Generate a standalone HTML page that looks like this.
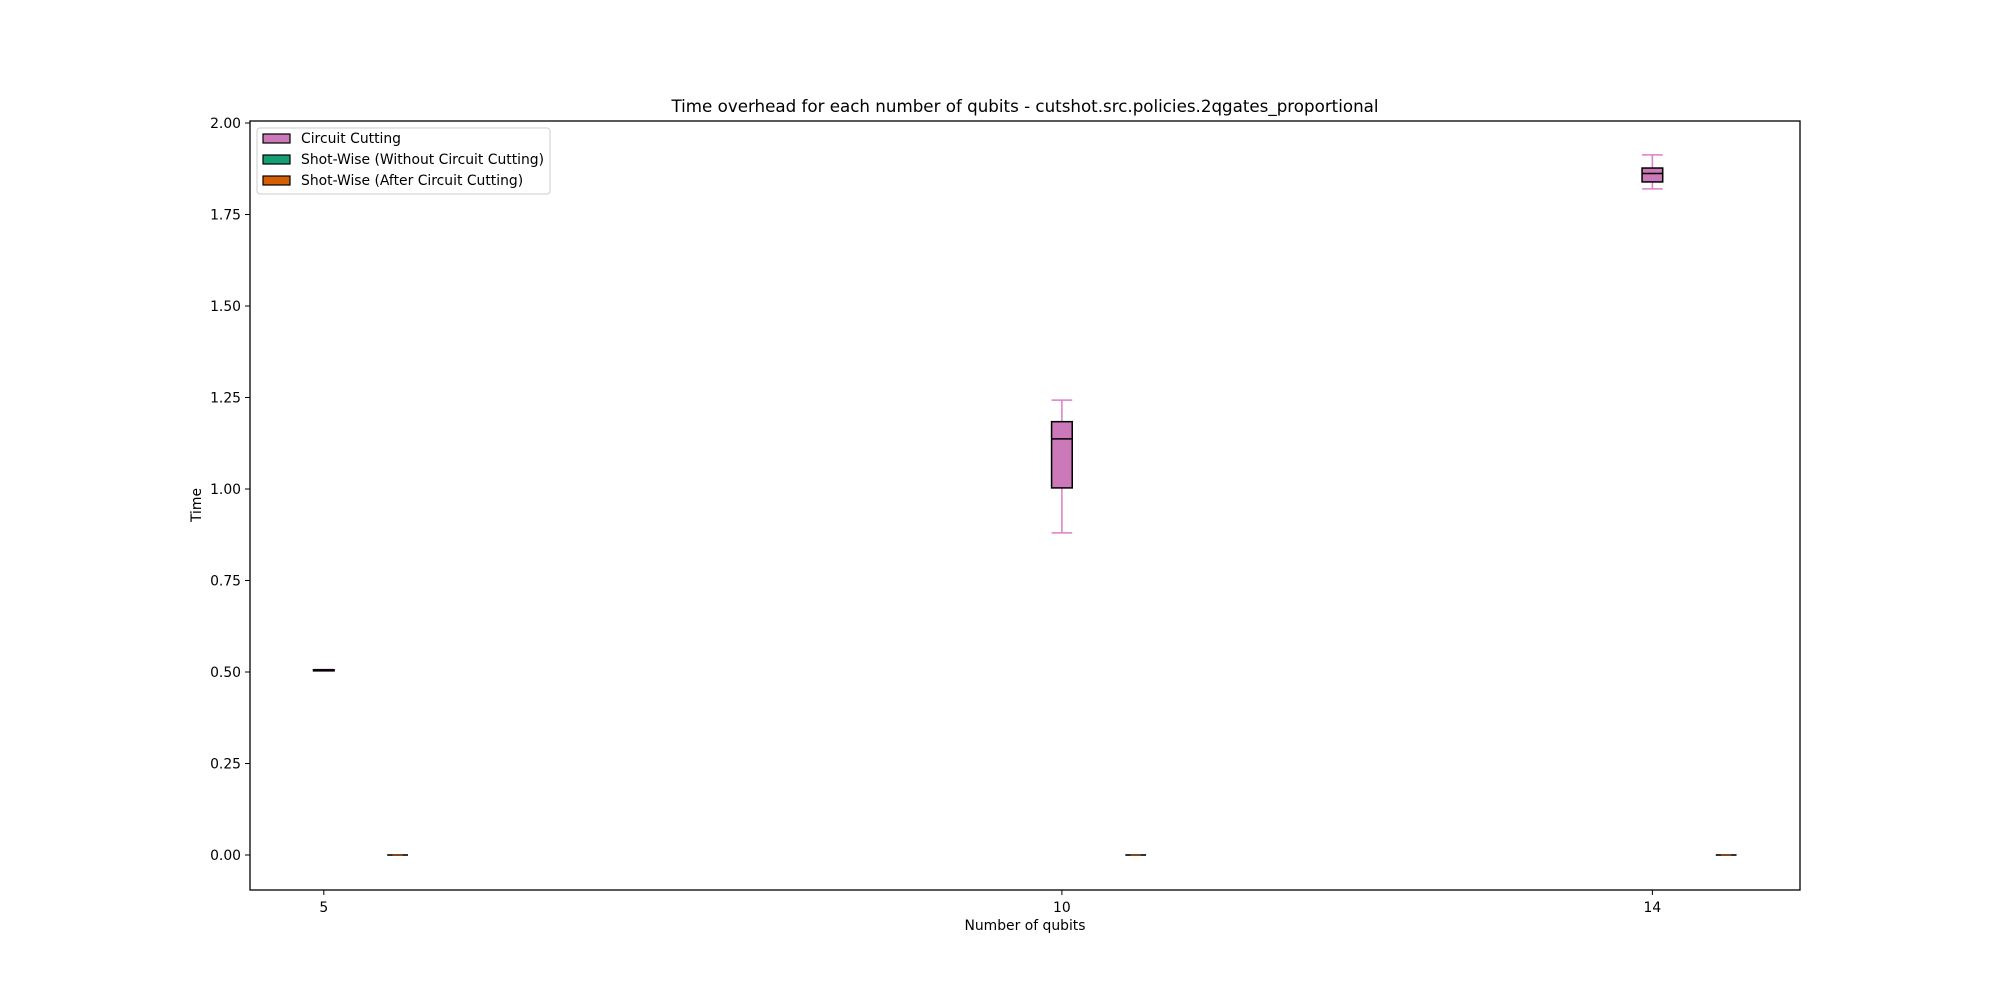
<!DOCTYPE html>
<html><head><meta charset="utf-8"><style>
html,body{margin:0;padding:0;background:#fff;width:2000px;height:1000px;overflow:hidden}
svg text{font-family:"DejaVu Sans","Liberation Sans",sans-serif;fill:#000}
</style></head><body>
<svg id="chart" width="2000" height="1000" xmlns="http://www.w3.org/2000/svg">
<text x="1025" y="112" font-size="16.7" text-anchor="middle">Time overhead for each number of qubits - cutshot.src.policies.2qgates_proportional</text>
<g id="plot"></g>
<rect x="250" y="121" width="1550" height="769" fill="none" stroke="#000" stroke-width="1.3"/>
<text x="1025" y="930" font-size="13.9" text-anchor="middle">Number of qubits</text>
<text transform="translate(201,505) rotate(-90)" font-size="13.9" text-anchor="middle">Time</text>
<g>
<rect x="257" y="128" width="293" height="66" rx="3" fill="#fff" stroke="#ccc" stroke-width="1"/>
<rect x="263" y="134" width="27" height="9" fill="#cc79b9" stroke="#000" stroke-width="1.2"/>
<text x="301" y="143" font-size="13.9">Circuit Cutting</text>
<rect x="263" y="155" width="27" height="9" fill="#149e74" stroke="#000" stroke-width="1.2"/>
<text x="301" y="164" font-size="13.9">Shot-Wise (Without Circuit Cutting)</text>
<rect x="263" y="176" width="27" height="9" fill="#d55e00" stroke="#000" stroke-width="1.2"/>
<text x="301" y="185" font-size="13.9">Shot-Wise (After Circuit Cutting)</text>
</g>
</svg>
<script>
const positions=[5,10,14];
const xTickLabels=["5","10","14"];
const yTicks=[0,0.25,0.5,0.75,1.0,1.25,1.5,1.75,2.0];
const ccWhiskLo=[0.503,0.880,1.820];
const ccQ1=[0.504,1.003,1.839];
const ccMed=[0.505,1.137,1.862];
const ccQ3=[0.506,1.184,1.877];
const ccWhiskHi=[0.507,1.243,1.913];
const swWithout=[0,0,0];
const swAfter=[0,0,0];
const NS="http://www.w3.org/2000/svg";
const X0=250,X1=1800,Y0=890,Y1=121,xmin=4.5,xmax=15,ymin=-0.0956,ymax=2.0055;
const sx=v=>X0+(v-xmin)/(xmax-xmin)*(X1-X0);
const sy=v=>Y0-(v-ymin)/(ymax-ymin)*(Y0-Y1);
const plot=document.getElementById('plot');
function mk(tag,attrs){const e=document.createElementNS(NS,tag);for(const k in attrs)e.setAttribute(k,attrs[k]);plot.appendChild(e);return e;}
yTicks.forEach((t,i)=>{
 const l=mk('line',{x1:X0-5,x2:X0,y1:sy(t),y2:sy(t),stroke:'#000','stroke-width':1});
 
 
 const tx=mk('text',{x:X0-9,y:sy(t)+5,'font-size':13.9,'text-anchor':'end'});
 tx.textContent=t.toFixed(2);
 
 
});
positions.forEach((p,i)=>{
 const l=mk('line',{x1:sx(p),x2:sx(p),y1:Y0,y2:Y0+5,stroke:'#000','stroke-width':1});
 
 
 const tx=mk('text',{x:sx(p),y:Y0+22,'font-size':13.9,'text-anchor':'middle'});
 tx.textContent=xTickLabels[i];
 
 
});
const W=0.14,CW=0.07,pink='#d97fc9';
positions.forEach((p,i)=>{
 const g=document.createElementNS(NS,'g');plot.appendChild(g);
 
 
 const add=(tag,a)=>{const e=document.createElementNS(NS,tag);for(const k in a)e.setAttribute(k,a[k]);g.appendChild(e);return e;};
 add('line',{x1:sx(p),x2:sx(p),y1:sy(ccWhiskLo[i]),y2:sy(ccQ1[i]),stroke:pink,'stroke-width':1.5});
 add('line',{x1:sx(p),x2:sx(p),y1:sy(ccQ3[i]),y2:sy(ccWhiskHi[i]),stroke:pink,'stroke-width':1.5});
 add('line',{x1:sx(p-CW),x2:sx(p+CW),y1:sy(ccWhiskLo[i]),y2:sy(ccWhiskLo[i]),stroke:pink,'stroke-width':1.5});
 add('line',{x1:sx(p-CW),x2:sx(p+CW),y1:sy(ccWhiskHi[i]),y2:sy(ccWhiskHi[i]),stroke:pink,'stroke-width':1.5});
 add('rect',{x:sx(p-W/2),y:sy(ccQ3[i]),width:sx(p+W/2)-sx(p-W/2),height:Math.max(1,sy(ccQ1[i])-sy(ccQ3[i])),fill:'#cc79b9',stroke:'#000','stroke-width':1.5});
 add('line',{x1:sx(p-W/2),x2:sx(p+W/2),y1:sy(ccMed[i]),y2:sy(ccMed[i]),stroke:'#000','stroke-width':1.5});
 const a=mk('line',{x1:sx(p+0.5-W/2),x2:sx(p+0.5+W/2),y1:sy(swWithout[i]),y2:sy(swWithout[i]),stroke:'#149e74','stroke-width':2});
 
 
 const b=mk('line',{x1:sx(p+0.5-W/2),x2:sx(p+0.5+W/2),y1:sy(swAfter[i]),y2:sy(swAfter[i]),stroke:'#333','stroke-width':2});
 
 
 const c=mk('line',{x1:sx(p+0.5-W/4),x2:sx(p+0.5+W/4),y1:sy(swAfter[i]),y2:sy(swAfter[i]),stroke:'#d55e00','stroke-width':1});
 
 
});
</script>
</body></html>
